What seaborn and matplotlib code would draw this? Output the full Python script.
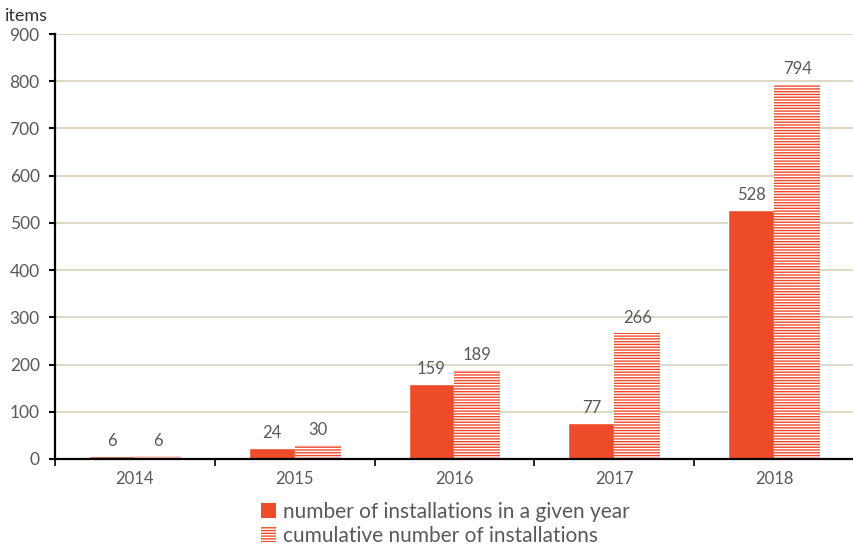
import numpy as np
import pandas as pd
import matplotlib
matplotlib.use('Agg')
import matplotlib.pyplot as plt
import matplotlib.patches as mpatches
import seaborn as sns

years = ['2014', '2015', '2016', '2017', '2018']
per_year = [6, 24, 159, 77, 528]
cumulative = [6, 30, 189, 266, 794]
series_names = ['number of installations in a given year',
                'cumulative number of installations']

RED = '#EE4B2B'
GRID = '#D5D2BC'
TXT = '#595959'

df = pd.DataFrame({
    'year': years * 2,
    'value': per_year + cumulative,
    'series': [series_names[0]] * len(years) + [series_names[1]] * len(years),
})

sns.set_theme(style='white')
plt.rcParams['font.family'] = ['Lato', 'DejaVu Sans']
plt.rcParams['hatch.color'] = 'white'
plt.rcParams['hatch.linewidth'] = 1.0

fig = plt.figure(figsize=(8.54, 5.45), dpi=100)
ax = fig.add_axes([0.0644, 0.1578, 0.9356, 0.7798])

sns.barplot(data=df, x='year', y='value', hue='series', palette=[RED, RED],
            width=0.575, gap=0, saturation=1, ax=ax, legend=False)

# hatched cumulative bars
for p in ax.containers[1]:
    p.set_hatch('------')
    p.set_edgecolor('white')
    p.set_linewidth(0)

for c in ax.containers:
    ax.bar_label(c, padding=5, fontsize=12, color=TXT)

ax.set_ylim(0, 900)
ax.set_xlim(-0.5, 4.5)
ax.set_yticks(np.arange(0, 901, 100))
ax.yaxis.grid(True, color=GRID, linewidth=1.2)
ax.set_axisbelow(True)
ax.set_xlabel('')
ax.set_ylabel('')

for s in ['top', 'right']:
    ax.spines[s].set_visible(False)
for s in ['left', 'bottom']:
    ax.spines[s].set_color('black')
    ax.spines[s].set_linewidth(1.6)

ax.tick_params(axis='y', left=True, length=4, width=1.5, color='black',
               labelsize=12.5, labelcolor=TXT, pad=7)
ax.tick_params(axis='x', which='major', length=0, labelsize=12,
               labelcolor=TXT, pad=9)
ax.set_xticks(np.arange(-0.5, 5, 1), minor=True)
ax.tick_params(axis='x', which='minor', bottom=True, length=5, width=1.2,
               color='black')

fig.text(0.006, 0.985, 'items', fontsize=13, color='#333333', va='top')

handles = [
    mpatches.Patch(facecolor=RED, edgecolor='none'),
    mpatches.Patch(facecolor=RED, edgecolor='white', linewidth=0, hatch='------'),
]
fig.legend(handles, series_names, loc='lower center', bbox_to_anchor=(0.522, -0.036),
           frameon=False, fontsize=15, labelcolor=TXT, handlelength=0.7,
           handleheight=0.7, handletextpad=0.35, labelspacing=0.2)

fig.savefig('out.png', dpi=100)
